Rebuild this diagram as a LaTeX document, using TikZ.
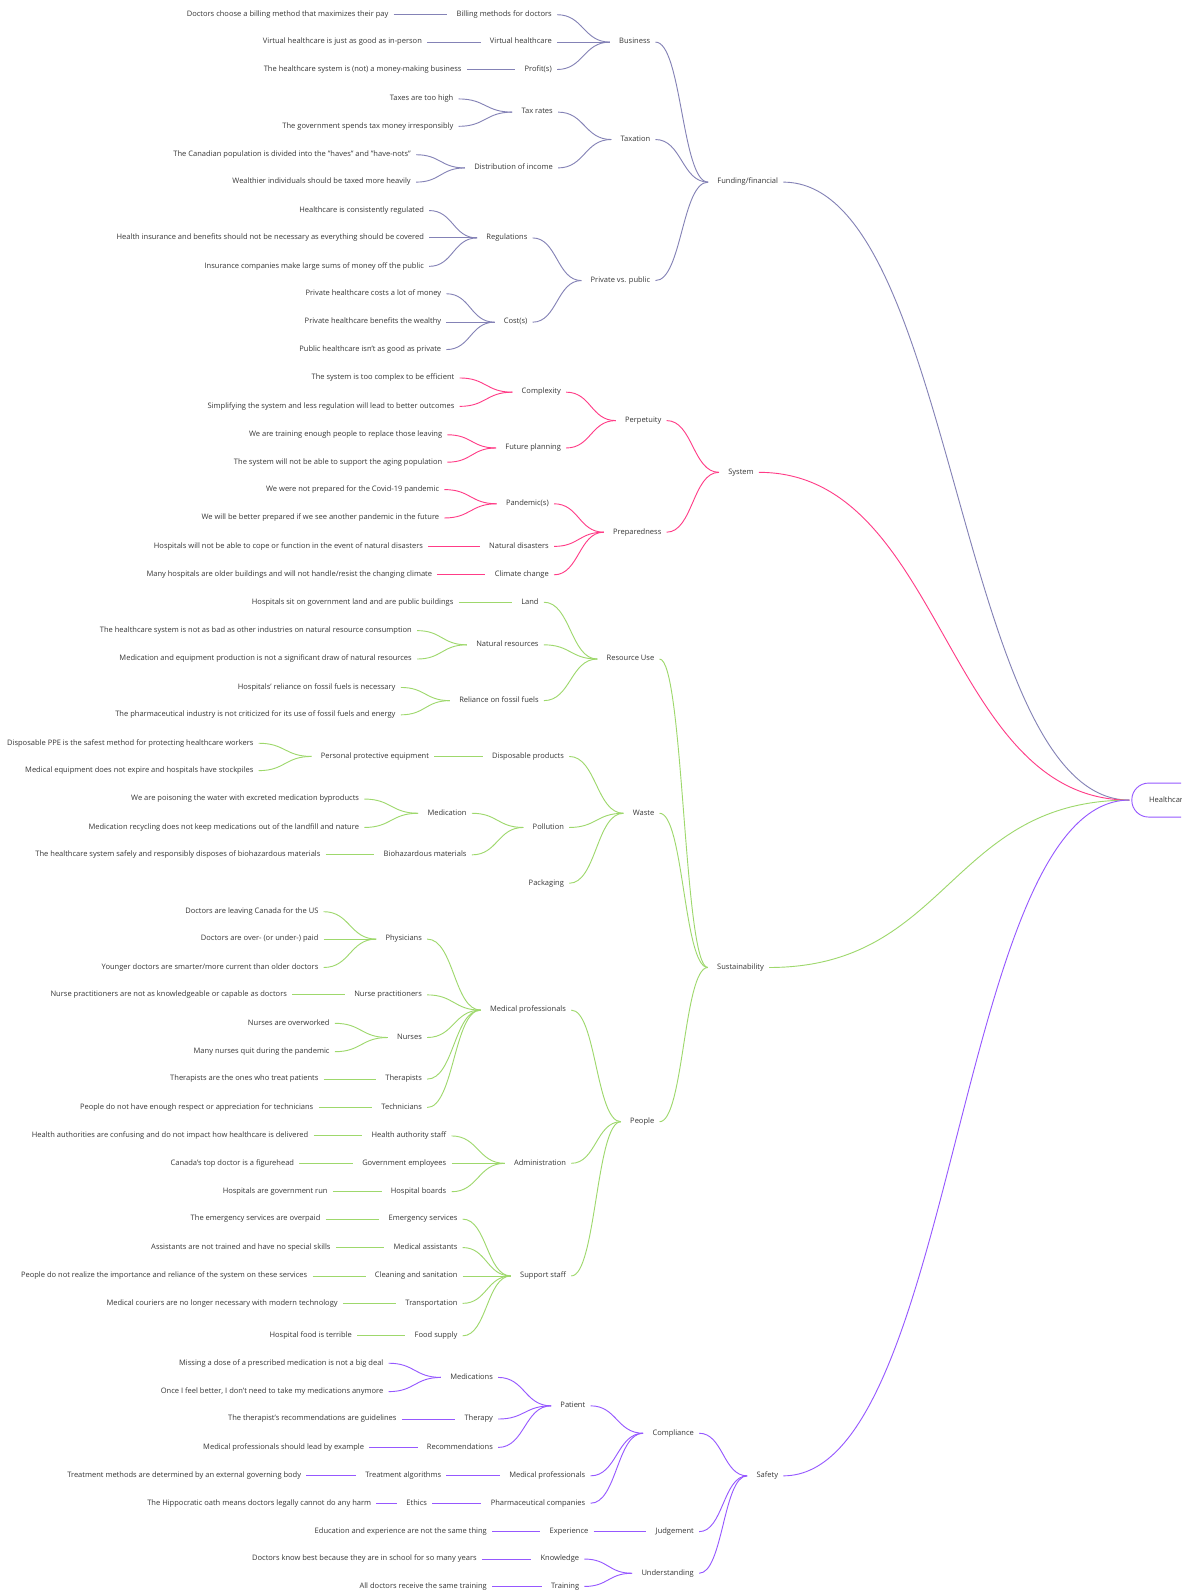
\documentclass[tikz,border=0pt]{standalone}
\usepackage{fontspec}
\setmainfont{Open Sans}
\usetikzlibrary{calc}
\definecolor{cfin}{RGB}{132,130,182}
\definecolor{csys}{RGB}{255,60,135}
\definecolor{csus}{RGB}{158,216,108}
\definecolor{csaf}{RGB}{150,88,255}
\definecolor{ctxt}{RGB}{55,55,55}
\newcommand\mfs{\fontsize{7.42}{8}\selectfont}
% text node anchored at its right end
\newcommand\nd[4]{\node[txt] (#1) at (#2,#3) {#4};}
% connector from a child's right end to its parent's left end
\newcommand\lk[4][9]{\draw[#2] let \p1=(#3.east), \p2=(#4.west), \n1={(\x2-\x1-5-#1)/2} in
  (\x1+5,\y1) .. controls (\x1+5+\n1,\y1) and (\x2-#1-\n1,\y2) .. (\x2-#1,\y2);}
\begin{document}
\begin{tikzpicture}[x=1pt,y=-1pt,
  txt/.style={font=\mfs, text=ctxt, inner sep=0pt, anchor=east, text height=5.3pt, text depth=1.7pt},
  fin/.style={draw=cfin, line width=0.9pt},
  sys/.style={draw=csys, line width=0.9pt},
  sus/.style={draw=csus, line width=0.9pt},
  saf/.style={draw=csaf, line width=0.9pt}]
\useasboundingbox (0,0) rectangle (1177,1568);
\fill[white] (0,0) rectangle (1177,1568);

\begin{scope}[yshift=-1.5pt]
% root
\begin{scope}
\clip (0,0) rectangle (1164,1568);
\node[draw=csaf, line width=0.9pt, rounded corners=16.5pt, minimum height=33.5pt, anchor=west,
  inner xsep=17pt, inner ysep=0pt, text width=90pt, align=left, font=\mfs, text=ctxt] (root) at (1115,787) {Healthcare};
\end{scope}

% ---------- Funding/financial ----------
\nd{fin}{767}{178}{Funding/financial}
\nd{bus}{641}{40}{Business}
\nd{tax}{641}{136}{Taxation}
\nd{pvp}{641}{275}{Private vs. public}
\nd{bil}{544}{13}{Billing methods for doctors}
\nd{vir}{544}{40}{Virtual healthcare}
\nd{pro}{544}{67}{Profit(s)}
\nd{l1}{383}{13}{Doctors choose a billing method that maximizes their pay}
\nd{l2}{416}{40}{Virtual healthcare is just as good as in-person}
\nd{l3}{455}{67}{The healthcare system is (not) a money-making business}
\nd{trt}{545}{109}{Tax rates}
\nd{dis}{545}{164}{Distribution of income}
\nd{l4}{447}{96}{Taxes are too high}
\nd{l5}{447}{123}{The government spends tax money irresponsibly}
\nd{l6}{405}{151}{The Canadian population is divided into the "haves" and "have-nots"}
\nd{l7}{405}{178}{Wealthier individuals should be taxed more heavily}
\nd{reg}{520}{233}{Regulations}
\nd{cst}{520}{316}{Cost(s)}
\nd{l8}{418}{206}{Healthcare is consistently regulated}
\nd{l9}{418}{233}{Health insurance and benefits should not be necessary as everything should be covered}
\nd{l10}{418}{261}{Insurance companies make large sums of money off the public}
\nd{l11}{435}{288}{Private healthcare costs a lot of money}
\nd{l12}{435}{316}{Private healthcare benefits the wealthy}
\nd{l13}{435}{343}{Public healthcare isn't as good as private}

\lk[2]{fin}{fin}{root}
\lk{fin}{bus}{fin}\lk{fin}{tax}{fin}\lk{fin}{pvp}{fin}
\lk{fin}{bil}{bus}\lk{fin}{vir}{bus}\lk{fin}{pro}{bus}
\lk{fin}{l1}{bil}\lk{fin}{l2}{vir}\lk{fin}{l3}{pro}
\lk{fin}{trt}{tax}\lk{fin}{dis}{tax}
\lk{fin}{l4}{trt}\lk{fin}{l5}{trt}\lk{fin}{l6}{dis}\lk{fin}{l7}{dis}
\lk{fin}{reg}{pvp}\lk{fin}{cst}{pvp}
\lk{fin}{l8}{reg}\lk{fin}{l9}{reg}\lk{fin}{l10}{reg}
\lk{fin}{l11}{cst}\lk{fin}{l12}{cst}\lk{fin}{l13}{cst}

% ---------- System ----------
\nd{sys}{743}{464}{System}
\nd{per}{652}{413}{Perpetuity}
\nd{pre}{652}{523}{Preparedness}
\nd{cpx}{553}{385}{Complexity}
\nd{fut}{553}{440}{Future planning}
\nd{l14}{448}{371}{The system is too complex to be efficient}
\nd{l15}{448}{399}{Simplifying the system and less regulation will lead to better outcomes}
\nd{l16}{436}{427}{We are training enough people to replace those leaving}
\nd{l17}{436}{454}{The system will not be able to support the aging population}
\nd{pan}{541}{495}{Pandemic(s)}
\nd{nat}{541}{537}{Natural disasters}
\nd{cli}{541}{565}{Climate change}
\nd{l18}{433}{481}{We were not prepared for the Covid-19 pandemic}
\nd{l19}{433}{509}{We will be better prepared if we see another pandemic in the future}
\nd{l20}{417}{537}{Hospitals will not be able to cope or function in the event of natural disasters}
\nd{l21}{426}{565}{Many hospitals are older buildings and will not handle/resist the changing climate}

\lk[2]{sys}{sys}{root}
\lk{sys}{per}{sys}\lk{sys}{pre}{sys}
\lk{sys}{cpx}{per}\lk{sys}{fut}{per}
\lk{sys}{l14}{cpx}\lk{sys}{l15}{cpx}\lk{sys}{l16}{fut}\lk{sys}{l17}{fut}
\lk{sys}{pan}{pre}\lk{sys}{nat}{pre}\lk{sys}{cli}{pre}
\lk{sys}{l18}{pan}\lk{sys}{l19}{pan}\lk{sys}{l20}{nat}\lk{sys}{l21}{cli}

% ---------- Sustainability ----------
\nd{sus}{753}{952}{Sustainability}
\nd{res}{645}{648}{Resource Use}
\nd{was}{645}{800}{Waste}
\nd{peo}{645}{1104}{People}
\nd{lan}{531}{592}{Land}
\nd{nrs}{531}{634}{Natural resources}
\nd{fos}{531}{689}{Reliance on fossil fuels}
\nd{l22}{447}{592}{Hospitals sit on government land and are public buildings}
\nd{l23}{406}{620}{The healthcare system is not as bad as other industries on natural resource consumption}
\nd{l24}{406}{648}{Medication and equipment production is not a significant draw of natural resources}
\nd{l25}{390}{676}{Hospitals' reliance on fossil fuels is necessary}
\nd{l26}{390}{703}{The pharmaceutical industry is not criticized for its use of fossil fuels and energy}
\nd{dsp}{556}{744}{Disposable products}
\nd{pol}{556}{814}{Pollution}
\nd{pck}{556}{869}{Packaging}
\nd{ppe}{423}{744}{Personal protective equipment}
\nd{l27}{250}{731}{Disposable PPE is the safest method for protecting healthcare workers}
\nd{l28}{250}{758}{Medical equipment does not expire and hospitals have stockpiles}
\nd{med}{460}{800}{Medication}
\nd{bio}{460}{841}{Biohazardous materials}
\nd{l29}{354}{786}{We are poisoning the water with excreted medication byproducts}
\nd{l30}{354}{814}{Medication recycling does not keep medications out of the landfill and nature}
\nd{l31}{316}{841}{The healthcare system safely and responsibly disposes of biohazardous materials}
\nd{mpr}{558}{994}{Medical professionals}
\nd{adm}{558}{1145}{Administration}
\nd{sup}{558}{1256}{Support staff}
\nd{phy}{416}{924}{Physicians}
\nd{npr}{416}{979}{Nurse practitioners}
\nd{nur}{416}{1021}{Nurses}
\nd{the}{416}{1062}{Therapists}
\nd{tec}{416}{1090}{Technicians}
\nd{l32}{314}{897}{Doctors are leaving Canada for the US}
\nd{l33}{314}{924}{Doctors are over- (or under-) paid}
\nd{l34}{314}{952}{Younger doctors are smarter/more current than older doctors}
\nd{l35}{283}{979}{Nurse practitioners are not as knowledgeable or capable as doctors}
\nd{l36}{325}{1007}{Nurses are overworked}
\nd{l37}{325}{1035}{Many nurses quit during the pandemic}
\nd{l38}{314}{1062}{Therapists are the ones who treat patients}
\nd{l39}{309}{1090}{People do not have enough respect or appreciation for technicians}
\nd{has}{440}{1118}{Health authority staff}
\nd{gov}{440}{1145}{Government employees}
\nd{hbo}{440}{1173}{Hospital boards}
\nd{l40}{304}{1118}{Health authorities are confusing and do not impact how healthcare is delivered}
\nd{l41}{290}{1145}{Canada's top doctor is a figurehead}
\nd{l42}{323}{1173}{Hospitals are government run}
\nd{ems}{451}{1200}{Emergency services}
\nd{mas}{451}{1228}{Medical assistants}
\nd{cln}{451}{1256}{Cleaning and sanitation}
\nd{trn}{451}{1283}{Transportation}
\nd{fds}{451}{1315}{Food supply}
\nd{l43}{316}{1200}{The emergency services are overpaid}
\nd{l44}{326}{1228}{Assistants are not trained and have no special skills}
\nd{l45}{303}{1256}{People do not realize the importance and reliance of the system on these services}
\nd{l46}{333}{1283}{Medical couriers are no longer necessary with modern technology}
\nd{l47}{347}{1315}{Hospital food is terrible}

\lk[2]{sus}{sus}{root}
\lk{sus}{res}{sus}\lk{sus}{was}{sus}\lk{sus}{peo}{sus}
\lk{sus}{lan}{res}\lk{sus}{nrs}{res}\lk{sus}{fos}{res}
\lk{sus}{l22}{lan}\lk{sus}{l23}{nrs}\lk{sus}{l24}{nrs}\lk{sus}{l25}{fos}\lk{sus}{l26}{fos}
\lk{sus}{dsp}{was}\lk{sus}{pol}{was}\lk{sus}{pck}{was}
\lk{sus}{ppe}{dsp}\lk{sus}{l27}{ppe}\lk{sus}{l28}{ppe}
\lk{sus}{med}{pol}\lk{sus}{bio}{pol}
\lk{sus}{l29}{med}\lk{sus}{l30}{med}\lk{sus}{l31}{bio}
\lk{sus}{mpr}{peo}\lk{sus}{adm}{peo}\lk{sus}{sup}{peo}
\lk{sus}{phy}{mpr}\lk{sus}{npr}{mpr}\lk{sus}{nur}{mpr}\lk{sus}{the}{mpr}\lk{sus}{tec}{mpr}
\lk{sus}{l32}{phy}\lk{sus}{l33}{phy}\lk{sus}{l34}{phy}\lk{sus}{l35}{npr}
\lk{sus}{l36}{nur}\lk{sus}{l37}{nur}\lk{sus}{l38}{the}\lk{sus}{l39}{tec}
\lk{sus}{has}{adm}\lk{sus}{gov}{adm}\lk{sus}{hbo}{adm}
\lk{sus}{l40}{has}\lk{sus}{l41}{gov}\lk{sus}{l42}{hbo}
\lk{sus}{ems}{sup}\lk{sus}{mas}{sup}\lk{sus}{cln}{sup}\lk{sus}{trn}{sup}\lk{sus}{fds}{sup}
\lk{sus}{l43}{ems}\lk{sus}{l44}{mas}\lk{sus}{l45}{cln}\lk{sus}{l46}{trn}\lk{sus}{l47}{fds}

% ---------- Safety ----------
\nd{saf}{767}{1453}{Safety}
\nd{com}{684}{1411}{Compliance}
\nd{jud}{684}{1508}{Judgement}
\nd{und}{684}{1549}{Understanding}
\nd{pat}{577}{1384}{Patient}
\nd{mpf}{577}{1453}{Medical professionals}
\nd{pha}{577}{1480}{Pharmaceutical companies}
\nd{mds}{486}{1356}{Medications}
\nd{thr}{486}{1397}{Therapy}
\nd{rec}{486}{1425}{Recommendations}
\nd{l48}{378}{1342}{Missing a dose of a prescribed medication is not a big deal}
\nd{l49}{378}{1370}{Once I feel better, I don't need to take my medications anymore}
\nd{l50}{391}{1397}{The therapist's recommendations are guidelines}
\nd{l51}{359}{1425}{Medical professionals should lead by example}
\nd{tal}{435}{1453}{Treatment algorithms}
\nd{l52}{297}{1453}{Treatment methods are determined by an external governing body}
\nd{eth}{421}{1480}{Ethics}
\nd{l53}{366}{1480}{The Hippocratic oath means doctors legally cannot do any harm}
\nd{exp}{580}{1508}{Experience}
\nd{l54}{480}{1508}{Education and experience are not the same thing}
\nd{kno}{571}{1535}{Knowledge}
\nd{trg}{571}{1562}{Training}
\nd{l55}{470}{1535}{Doctors know best because they are in school for so many years}
\nd{l56}{480}{1562}{All doctors receive the same training}

\lk[2]{saf}{saf}{root}
\lk{saf}{com}{saf}\lk{saf}{jud}{saf}\lk{saf}{und}{saf}
\lk{saf}{pat}{com}\lk{saf}{mpf}{com}\lk{saf}{pha}{com}
\lk{saf}{mds}{pat}\lk{saf}{thr}{pat}\lk{saf}{rec}{pat}
\lk{saf}{l48}{mds}\lk{saf}{l49}{mds}\lk{saf}{l50}{thr}\lk{saf}{l51}{rec}
\lk{saf}{tal}{mpf}\lk{saf}{l52}{tal}\lk{saf}{eth}{pha}\lk{saf}{l53}{eth}
\lk{saf}{exp}{jud}\lk{saf}{l54}{exp}
\lk{saf}{kno}{und}\lk{saf}{trg}{und}\lk{saf}{l55}{kno}\lk{saf}{l56}{trg}
\end{scope}
\end{tikzpicture}
\end{document}
